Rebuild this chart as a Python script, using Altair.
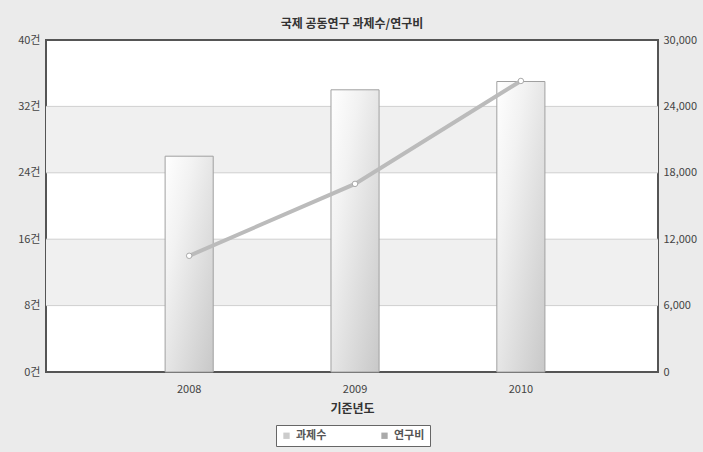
import altair as alt
import pandas as pd

years = ["2008", "2009", "2010"]
projects = [26, 34, 35]
funds = [10500, 17000, 26300]
left_ticks = [0, 8, 16, 24, 32, 40]
right_ticks = [0, 6000, 12000, 18000, 24000, 30000]
band_lo = [8, 24]
band_hi = [16, 32]
grid_vals = [8, 16, 24, 32]
series = ["과제수", "연구비"]
series_colors = ["#cccccc", "#aaaaaa"]

df = pd.DataFrame({"year": years, "projects": projects, "funds": funds})
bands = pd.DataFrame({"lo": band_lo, "hi": band_hi})
grid = pd.DataFrame({"v": grid_vals})
leg = pd.DataFrame({"series": series, "year": years[:2]})

FONT = "Noto Sans CJK KR"

xenc = alt.X(
    "year:N",
    scale=alt.Scale(domain=years, paddingInner=0.71, paddingOuter=0.70, align=0.513),
    axis=alt.Axis(title="기준년도", labelAngle=0, labelPadding=11, titlePadding=9,
                  ticks=False, domain=False, labelFontSize=11, labelColor="#444",
                  titleFontSize=12, titleFontWeight="bold", titleColor="#333"),
)

yscale_l = alt.Scale(domain=[0, 40], nice=False, zero=True)
yaxis_l = alt.Axis(title=None, values=left_ticks, labelExpr="datum.value + '건'",
                   grid=False, ticks=False, domain=False, labelPadding=6,
                   labelFontSize=11, labelColor="#444", orient="left")

band_layer = alt.Chart(bands).mark_rect(color="#f0f0f0").encode(
    y=alt.Y("lo:Q", scale=yscale_l, axis=yaxis_l),
    y2="hi:Q",
)
grid_layer = alt.Chart(grid).mark_rule(color="#cfcfcf", strokeWidth=1).encode(
    y=alt.Y("v:Q", scale=yscale_l, axis=yaxis_l),
)
grad = alt.Gradient(
    gradient="linear",
    stops=[alt.GradientStop(color="#ffffff", offset=0),
           alt.GradientStop(color="#f2f2f2", offset=0.3),
           alt.GradientStop(color="#c8c8c8", offset=1)],
    x1=0, y1=0, x2=1, y2=1,
)
bar_layer = alt.Chart(df).mark_bar(fill=grad, stroke="#a0a0a0", strokeWidth=1).encode(
    x=xenc,
    y=alt.Y("projects:Q", scale=yscale_l, axis=yaxis_l),
)
left = alt.layer(band_layer, grid_layer, bar_layer)

yscale_r = alt.Scale(domain=[0, 30000], nice=False, zero=True)
line_layer = alt.Chart(df).mark_line(
    color="#bbbbbb", strokeWidth=4,
    point=alt.OverlayMarkDef(filled=True, fill="white", stroke="#aaaaaa", strokeWidth=1, size=30, opacity=1),
).encode(
    x=xenc,
    y=alt.Y("funds:Q", scale=yscale_r,
            axis=alt.Axis(title=None, values=right_ticks, orient="right",
                          labelExpr="format(datum.value, ',')",
                          grid=False, ticks=False, domain=False, labelPadding=5,
                          labelFontSize=11, labelColor="#444")),
)

legend_layer = alt.Chart(leg).mark_square(opacity=0).encode(
    x=xenc,
    color=alt.Color("series:N",
                    scale=alt.Scale(domain=series, range=series_colors),
                    legend=alt.Legend(title=None, orient="none", legendX=230, legendY=385,
                                      direction="horizontal", symbolType="square",
                                      symbolOpacity=1, symbolSize=40, symbolStrokeWidth=0,
                                      strokeColor="#666666", fillColor="white", padding=5,
                                      columnPadding=52, labelFont=FONT, labelFontSize=11,
                                      labelFontWeight="bold", labelColor="#555")),
)

chart = alt.layer(left, line_layer, legend_layer).resolve_scale(y="independent").properties(
    width=612, height=332,
    title=alt.TitleParams("국제 공동연구 과제수/연구비", fontSize=12, fontWeight="bold",
                          color="#333", font=FONT, offset=3, anchor="middle"),
    autosize=alt.AutoSizeParams(type="none"),
    padding={"left": 46, "top": 40, "right": 45, "bottom": 80},
    background="#ebebeb",
).configure_view(
    stroke="#555555", strokeWidth=2, fill="white",
).configure_axis(
    labelFont=FONT, titleFont=FONT,
)

chart.save("out.html", embed_options={"renderer": "svg", "actions": False})
